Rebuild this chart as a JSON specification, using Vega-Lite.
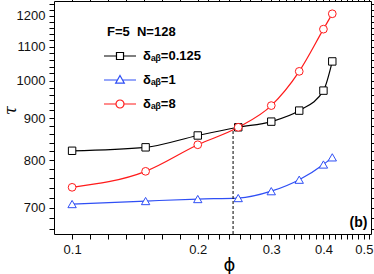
{
  "$schema": "https://vega.github.io/schema/vega-lite/v6.json",
  "width": 317,
  "height": 233,
  "autosize": {"type": "none"},
  "padding": {"left": 54, "top": 1, "right": 3, "bottom": 40},
  "background": "white",
  "config": {
    "view": {"stroke": null},
    "font": "Liberation Sans",
    "axis": {"grid": false, "domainColor": "black", "domainWidth": 1, "tickColor": "black", "tickWidth": 1, "tickSize": 5, "labelFont": "Liberation Sans", "labelFontSize": 13, "labelColor": "#111", "labelOverlap": false, "labelFlush": false}
  },
  "data": {
    "values": [
      {"s": "0.125", "phi": 0.1, "tau": 821},
      {"s": "0.125", "phi": 0.15, "tau": 829},
      {"s": "0.125", "phi": 0.2, "tau": 857},
      {"s": "0.125", "phi": 0.25, "tau": 877},
      {"s": "0.125", "phi": 0.3, "tau": 891},
      {"s": "0.125", "phi": 0.35, "tau": 919},
      {"s": "0.125", "phi": 0.4, "tau": 972},
      {"s": "0.125", "phi": 0.42, "tau": 1055},
      {"s": "1", "phi": 0.1, "tau": 707},
      {"s": "1", "phi": 0.15, "tau": 713},
      {"s": "1", "phi": 0.2, "tau": 717},
      {"s": "1", "phi": 0.25, "tau": 719},
      {"s": "1", "phi": 0.3, "tau": 733},
      {"s": "1", "phi": 0.35, "tau": 757},
      {"s": "1", "phi": 0.4, "tau": 790},
      {"s": "1", "phi": 0.42, "tau": 806},
      {"s": "8", "phi": 0.1, "tau": 741},
      {"s": "8", "phi": 0.15, "tau": 775},
      {"s": "8", "phi": 0.2, "tau": 835},
      {"s": "8", "phi": 0.25, "tau": 877},
      {"s": "8", "phi": 0.3, "tau": 932},
      {"s": "8", "phi": 0.35, "tau": 1026},
      {"s": "8", "phi": 0.4, "tau": 1155},
      {"s": "8", "phi": 0.42, "tau": 1206}
    ]
  },
  "layer": [
    {
      "mark": {"type": "line", "interpolate": "monotone", "strokeWidth": 1.2},
      "encoding": {
        "x": {"field": "phi", "type": "quantitative",
          "scale": {"type": "log", "domain": [0.0905, 0.52], "nice": false, "zero": false},
          "axis": {"orient": "bottom", "title": "ϕ", "titleFont": "DejaVu Sans", "titleFontSize": 18, "titleFontWeight": "normal", "titleX": 175, "titleY": 31, "titleBaseline": "middle", "titleAlign": "center",
            "values": [0.1, 0.110409, 0.121901, 0.13459, 0.148599, 0.164067, 0.181145, 0.2, 0.211927, 0.224565, 0.237956, 0.252147, 0.267183, 0.283116, 0.3, 0.312586, 0.3257, 0.339364, 0.353602, 0.368437, 0.383894, 0.4, 0.412956, 0.426332, 0.440142, 0.454398, 0.469117, 0.484313, 0.5, 0.513194],
            "labelExpr": "abs(datum.value*10 - round(datum.value*10)) < 1e-6 ? format(datum.value, '.1f') : ''",
            "labelPadding": 4,
            "encode": {"ticks": {"update": {"y2": {"signal": "abs(datum.value*10 - round(datum.value*10)) < 1e-6 ? 5 : 3"}}}}
          }},
        "y": {"field": "tau", "type": "quantitative",
          "scale": {"type": "log", "domain": [650, 1250], "nice": false, "zero": false},
          "axis": {"orient": "left", "title": "τ", "titleFont": "DejaVu Serif", "titleFontStyle": "italic", "titleFontSize": 16, "titleFontWeight": "normal", "titleX": -44, "titleY": 109, "titleBaseline": "middle", "titleAlign": "center", "titleAngle": -90,
            "values": [660, 680, 700, 720, 740, 760, 780, 800, 820, 840, 860, 880, 900, 920, 940, 960, 980, 1000, 1020, 1040, 1060, 1080, 1100, 1120, 1140, 1160, 1180, 1200, 1220, 1240],
            "labelExpr": "datum.value % 100 == 0 ? format(datum.value, 'd') : ''",
            "labelPadding": 4,
            "encode": {"ticks": {"update": {"x2": {"signal": "datum.value % 100 == 0 ? -5 : -3"}}}}
          }},
        "stroke": {"field": "s", "type": "nominal",
          "scale": {"domain": ["0.125", "1", "8"], "range": ["#000000", "#2f4ff5", "#ff1a1a"]},
          "legend": {
            "orient": "none", "legendX": 49, "legendY": 25,
            "title": "F=5\u00a0 N=128", "titleFont": "Liberation Sans", "titleFontSize": 13, "titleFontWeight": "bold", "titleColor": "black", "titlePadding": 0,
            "labelFont": "Liberation Sans", "labelFontSize": 13, "labelFontWeight": "bold", "labelColor": "black", "labelOffset": 6,
            "labelExpr": "'δₐᵦ=' + datum.label",
            "symbolSize": 1024, "symbolStrokeWidth": 1.2, "rowPadding": -3.5,
            "encode": {
              "title": {"update": {"dx": {"value": 4}}},
              "symbols": {"update": {
                "shape": {"signal": "datum.value == '0.125' ? 'M-1,0H-0.22M0.22,0H1M-0.22,-0.22H0.22V0.22H-0.22Z' : datum.value == '1' ? 'M-1,0H-0.15M0.15,0H1M0,-0.28L0.27,0.2L-0.27,0.2Z' : 'M-1,0H-0.25M0.25,0H1M-0.25,0A0.25,0.25 0 1,0 0.25,0A0.25,0.25 0 1,0 -0.25,0Z'"},
                "fill": {"value": "white"},
                "fillOpacity": {"value": 1},
                "opacity": {"value": 1}
              }}
            }
          }}
      }
    },
    {
      "transform": [{"filter": "datum.s == '0.125'"}],
      "mark": {"type": "point", "shape": "square", "filled": false, "fill": "white", "fillOpacity": 1, "opacity": 1, "strokeWidth": 1, "size": 55},
      "encoding": {
        "x": {"field": "phi", "type": "quantitative",
          "scale": {"type": "log", "domain": [0.0905, 0.52], "nice": false, "zero": false},
          "axis": {"orient": "top", "title": null, "labels": false,
            "values": [0.1, 0.110409, 0.121901, 0.13459, 0.148599, 0.164067, 0.181145, 0.2, 0.211927, 0.224565, 0.237956, 0.252147, 0.267183, 0.283116, 0.3, 0.312586, 0.3257, 0.339364, 0.353602, 0.368437, 0.383894, 0.4, 0.412956, 0.426332, 0.440142, 0.454398, 0.469117, 0.484313, 0.5, 0.513194],
            "encode": {"ticks": {"update": {"y2": {"signal": "abs(datum.value*10 - round(datum.value*10)) < 1e-6 ? 5 : 3"}}}}
          }},
        "y": {"field": "tau", "type": "quantitative",
          "scale": {"type": "log", "domain": [650, 1250], "nice": false, "zero": false},
          "axis": {"orient": "right", "title": null, "labels": false,
            "values": [660, 680, 700, 720, 740, 760, 780, 800, 820, 840, 860, 880, 900, 920, 940, 960, 980, 1000, 1020, 1040, 1060, 1080, 1100, 1120, 1140, 1160, 1180, 1200, 1220, 1240],
            "encode": {"ticks": {"update": {"x2": {"signal": "datum.value % 100 == 0 ? -5 : -3"}}}}
          }},
        "stroke": {"field": "s", "type": "nominal", "legend": null}
      }
    },
    {
      "transform": [{"filter": "datum.s == '1'"}],
      "mark": {"type": "point", "shape": "triangle-up", "filled": false, "fill": "white", "fillOpacity": 1, "opacity": 1, "strokeWidth": 1, "size": 70},
      "encoding": {
        "x": {"field": "phi", "type": "quantitative", "axis": null},
        "y": {"field": "tau", "type": "quantitative", "axis": null},
        "stroke": {"field": "s", "type": "nominal", "legend": null}
      }
    },
    {
      "transform": [{"filter": "datum.s == '8'"}],
      "mark": {"type": "point", "shape": "circle", "filled": false, "fill": "white", "fillOpacity": 1, "opacity": 1, "strokeWidth": 1, "size": 60},
      "encoding": {
        "x": {"field": "phi", "type": "quantitative", "axis": null},
        "y": {"field": "tau", "type": "quantitative", "axis": null},
        "stroke": {"field": "s", "type": "nominal", "legend": null}
      }
    },
    {
      "data": {"values": [{"phi": 0.243, "lo": 650, "hi": 872}]},
      "mark": {"type": "rule", "strokeDash": [3, 2], "strokeWidth": 1, "color": "black"},
      "encoding": {
        "x": {"field": "phi", "type": "quantitative", "axis": null},
        "y": {"field": "lo", "type": "quantitative", "axis": null},
        "y2": {"field": "hi"}
      }
    },
    {
      "data": {"values": [{"phi": 0.51, "tau": 671, "label": "(b)"}]},
      "mark": {"type": "text", "align": "right", "baseline": "middle", "fontSize": 14, "fontWeight": "bold", "font": "Liberation Sans", "color": "black"},
      "encoding": {
        "x": {"field": "phi", "type": "quantitative", "axis": null},
        "y": {"field": "tau", "type": "quantitative", "axis": null},
        "text": {"field": "label"}
      }
    }
  ],
  "resolve": {"axis": {"x": "independent", "y": "independent"}}
}
